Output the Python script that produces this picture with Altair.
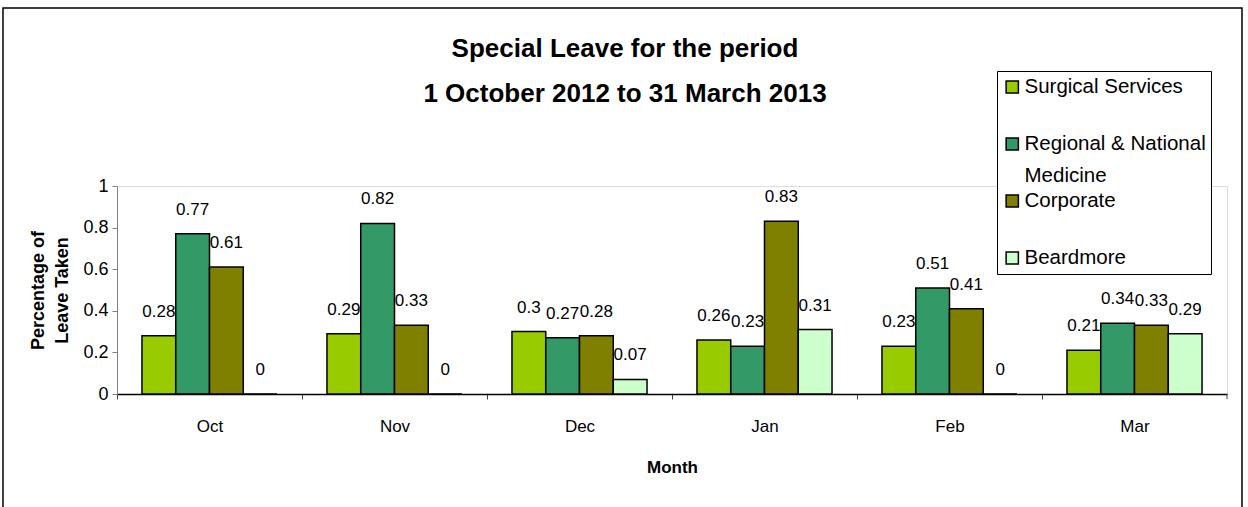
import altair as alt
import pandas as pd

months = ["Oct", "Nov", "Dec", "Jan", "Feb", "Mar"]
series = ["Surgical Services", "Regional & National Medicine", "Corporate", "Beardmore"]
colors = ["#99CC00", "#339966", "#808000", "#CCFFCC"]
surgical = [0.28, 0.29, 0.30, 0.26, 0.23, 0.21]
regional = [0.77, 0.82, 0.27, 0.23, 0.51, 0.34]
corporate = [0.61, 0.33, 0.28, 0.83, 0.41, 0.33]
beardmore = [0.0, 0.0, 0.07, 0.31, 0.0, 0.29]
y_ticks = [0, 0.2, 0.4, 0.6, 0.8, 1.0]

rows = []
for s, vals in zip(series, [surgical, regional, corporate, beardmore]):
    for m, v in zip(months, vals):
        rows.append({"Month": m, "series": s, "value": v})
df = pd.DataFrame(rows)

FONT = "Liberation Sans, Arial, sans-serif"
W, H = 1110, 208

base = alt.Chart(df).encode(
    x=alt.X("Month:N", sort=months,
            scale=alt.Scale(paddingInner=0.27, paddingOuter=0.135),
            axis=alt.Axis(title="Month", labelAngle=0, labelFontSize=17, labelFont=FONT,
                          labelColor="black", domainColor="black", domainWidth=1.5,
                          tickColor="#444444", tickSize=5, tickOffset=-92.5, labelOffset=92.5,
                          labelPadding=19, titleFont=FONT, titleFontSize=17, titleFontWeight="bold",
                          titlePadding=25, titleColor="black")),
    xOffset=alt.XOffset("series:N", sort=series, scale=alt.Scale(paddingInner=0, paddingOuter=0)),
)

legend_expr = (
    "datum.label == 'Regional & National Medicine' ? ['Regional & National', 'Medicine'] : "
    "datum.label == 'Beardmore' ? datum.label : [datum.label, '']"
)

bars = base.mark_bar(stroke="black", strokeWidth=1.5).encode(
    y=alt.Y("value:Q", scale=alt.Scale(domain=[0, 1], nice=False),
            axis=alt.Axis(values=y_ticks, format="~g", grid=False, labelFontSize=18, labelFont=FONT,
                          labelColor="black", domainColor="#808080", tickColor="#808080",
                          tickSize=5, labelPadding=4,
                          title=["Percentage of", "Leave Taken"], titleFont=FONT,
                          titleFontSize=18, titleFontWeight="bold", titleColor="black",
                          titleAngle=-90, titleBaseline="middle", titleAlign="center",
                          titleX=-79, titleY=104, titleLineHeight=24)),
    color=alt.Color("series:N", sort=series,
                    scale=alt.Scale(domain=series, range=colors),
                    legend=alt.Legend(
                        title=None, orient="none", legendX=880, legendY=-115,
                        symbolType="square", symbolSize=150, symbolStrokeColor="black",
                        symbolStrokeWidth=1.5, labelFont=FONT, labelFontSize=20.5,
                        labelColor="black", labelLimit=400, rowPadding=3, clipHeight=22,
                        labelOffset=2, padding=5, strokeColor="black", fillColor="white",
                        labelExpr=legend_expr, labelBaseline="middle")),
)

labels = base.mark_text(baseline="alphabetic", dy=-19, font=FONT, fontSize=17, color="black").encode(
    y=alt.Y("value:Q"),
    text=alt.Text("value:Q", format="~g"),
)

one = pd.DataFrame({"a": [0]})
frame = alt.Chart(one).mark_rect(filled=False, stroke="black", strokeWidth=1.5).encode(
    x=alt.value(-114), x2=alt.value(1125), y=alt.value(-178), y2=alt.value(340))
end_tick = alt.Chart(one).mark_rule(color="#444444").encode(
    x=alt.value(W), y=alt.value(H), y2=alt.value(H + 5))

chart = alt.layer(bars, labels, end_tick, frame).properties(
    width=W, height=H,
    title=alt.TitleParams(text=["Special Leave for the period", "1 October 2012 to 31 March 2013"],
                          font=FONT, fontSize=26, fontWeight="bold", color="black",
                          anchor="middle", dx=-47, offset=-121, baseline="alphabetic", lineHeight=45),
    autosize=alt.AutoSizeParams(type="none"),
    padding={"left": 117, "top": 186, "right": 21, "bottom": 113},
).configure_view(strokeWidth=0).configure(
    background="white", style={"guide-label": {"lineHeight": 32}})

chart.save("out.html", embed_options={"renderer": "svg", "actions": False})
